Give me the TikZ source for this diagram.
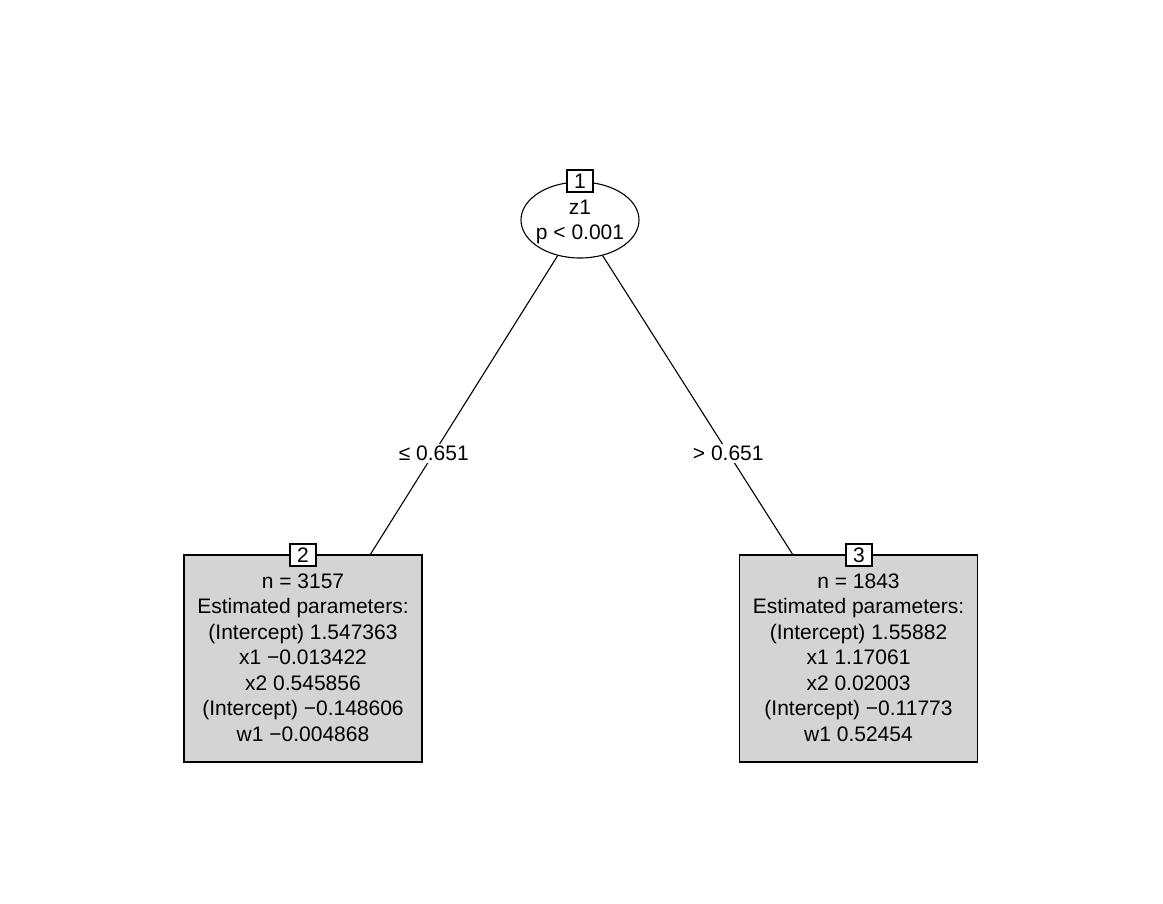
\documentclass[tikz,border=0pt]{standalone}
\usepackage{fontspec}
\setmainfont{Liberation Sans}
\usetikzlibrary{shapes.geometric}
\begin{document}
\begin{tikzpicture}[x=1pt,y=-1pt,line width=1.1pt,
  txt/.style={font=\fontsize{21}{25.5}\selectfont},
  inner/.style={draw,ellipse,minimum width=118pt,minimum height=76pt,inner sep=0pt},
  leaf/.style={draw,fill=black!17,minimum width=238pt,minimum height=207pt,inner sep=0pt},
  body/.style={align=center,inner sep=0pt,txt},
  idbox/.style={draw,fill=white,minimum width=26pt,minimum height=22pt,inner sep=0pt,txt},
  elab/.style={fill=white,inner sep=2pt,txt}]
\path[use as bounding box] (0,0) rectangle (1163,904);
\node[inner] (n1) at (580,220) {};
\node[body] (t1) at (580,222) {z1\\p < 0.001};
\node[leaf] (n2) at (303,658.5) {};
\node[body] (t2) at (303,657.5) {n = 3157\\Estimated parameters:\\(Intercept) 1.547363\\x1 −0.013422\\x2 0.545856\\(Intercept) −0.148606\\w1 −0.004868};
\node[leaf] (n3) at (858.5,658.5) {};
\node[body] (t3) at (858.5,657.5) {n = 1843\\Estimated parameters:\\(Intercept) 1.55882\\x1 1.17061\\x2 0.02003\\(Intercept) −0.11773\\w1 0.52454};
\coordinate (c2) at (370,555);
\coordinate (c3) at (793,555);
\draw (n1) -- (c2) node[elab,pos=0.66] {≤ 0.651};
\draw (n1) -- (c3) node[elab,pos=0.66] {> 0.651};
\node[idbox] (i1) at (580,181) {1};
\node[idbox] (i2) at (303,555) {2};
\node[idbox] (i3) at (859,555) {3};
\end{tikzpicture}
\end{document}
